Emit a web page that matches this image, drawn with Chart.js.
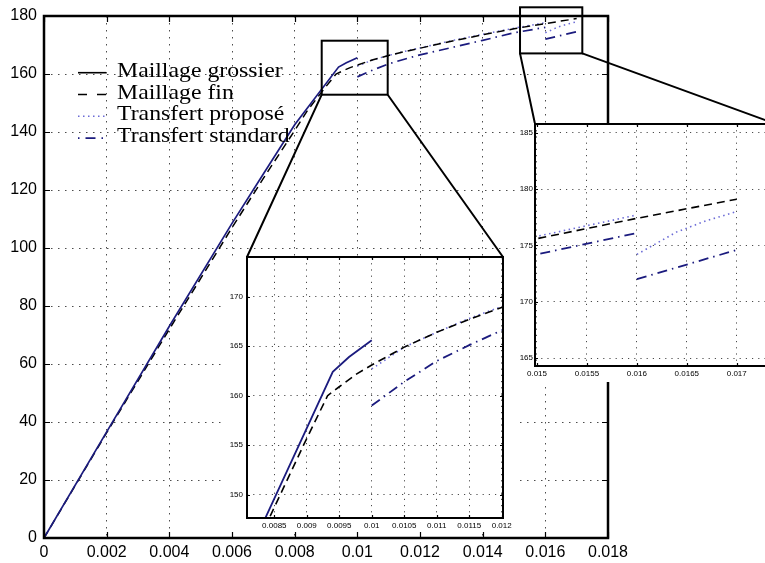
<!DOCTYPE html>
<html>
<head>
<meta charset="utf-8">
<script src="https://cdn.jsdelivr.net/npm/chart.js@4.4.1/dist/chart.umd.min.js"></script>
<style>
  body { margin: 0; background: #fff; overflow: hidden; }
  canvas { position: absolute; }
  #mainChart { left: 0; top: 0; }
  #zoomA { left: 225px; top: 256px; }
  #zoomB { left: 518px; top: 123px; }
</style>
</head>
<body>
<canvas id="mainChart" width="765" height="563"></canvas>
<canvas id="zoomA" width="293" height="275"></canvas>
<canvas id="zoomB" width="290" height="259"></canvas>
<script>
// courbes effort / deformation
const grossierX = [0, 0.002, 0.004, 0.006, 0.007, 0.008, 0.0094, 0.00965, 0.01];
const grossierY = [0, 36.6, 73, 108.5, 125.5, 142.5, 162.4, 163.9, 165.6];

const finX = [0, 0.002, 0.004, 0.006, 0.007, 0.008, 0.00842, 0.00895, 0.00932, 0.0095, 0.00977, 0.01,
    0.0105, 0.011, 0.0115, 0.012, 0.013, 0.014, 0.015, 0.016, 0.017];
const finY = [0, 36.3, 72, 107, 124, 140.5, 147.6, 155, 160, 160.9, 162.2, 163.1,
    164.9, 166.4, 167.7, 168.9, 171.3, 173.5, 175.6, 177.4, 179.1];

// null = coupure au moment du transfert
const proposeX = [0.01, 0.0105, 0.011, 0.0115, 0.012, 0.013, 0.014, 0.015, 0.016, 0.016, 0.016, 0.0162, 0.0164, 0.0167, 0.017];
const proposeY = [162.7, 164.9, 166.4, 167.8, 169.0, 171.5, 173.7, 175.8, 177.7, null, 174.2, 175.2, 176.2, 177.2, 178.0];

const standardX = [0.01, 0.0105, 0.011, 0.0115, 0.012, 0.013, 0.014, 0.015, 0.016, 0.016, 0.016, 0.017];
const standardY = [159.0, 161.4, 163.5, 165.1, 166.6, 169.1, 171.6, 174.2, 176.1, null, 172.0, 174.6];

const labels = ['Maillage grossier', 'Maillage fin', 'Transfert proposé', 'Transfert standard'];

// graduations
const mainXTicks = [0, 0.002, 0.004, 0.006, 0.008, 0.01, 0.012, 0.014, 0.016, 0.018];
const mainYTicks = [0, 20, 40, 60, 80, 100, 120, 140, 160, 180];
const zoomAXTicks = [0.0085, 0.009, 0.0095, 0.01, 0.0105, 0.011, 0.0115, 0.012];
const zoomAYTicks = [150, 155, 160, 165, 170];
const zoomBXTicks = [0.015, 0.0155, 0.016, 0.0165, 0.017];
const zoomBYTicks = [165, 170, 175, 180, 185];

// fenetres des loupes
const zoomAX = [0.00808, 0.01202], zoomAY = [147.65, 174];
const zoomBX = [0.01498, 0.017393], zoomBY = [164.3, 185.77];
const boxAX = [0.008863, 0.010969], boxAY = [152.86, 171.48];
const boxBX = [0.015192, 0.01718], boxBY = [167.1, 183.0];

const NAVY = '#1b1b7e';
const LILAC = '#6b6bd6';

Chart.defaults.font.family = '"Liberation Sans", Arial, sans-serif';
Chart.defaults.color = '#000';

function pts(xs, ys) {
    return xs.map((x, i) => ({ x: x, y: ys[i] }));
}

function buildDatasets(w) {
    return [
        { label: labels[0], data: pts(grossierX, grossierY), borderColor: NAVY, legendColor: '#000',
          borderWidth: w + 0.2, borderDash: [], legendDash: [] },
        { label: labels[1], data: pts(finX, finY), borderColor: '#000', legendColor: '#000',
          borderWidth: w, borderDash: [8, 5], legendDash: [9, 10] },
        { label: labels[2], data: pts(proposeX, proposeY), borderColor: LILAC, legendColor: LILAC,
          borderWidth: w, borderDash: [1.5, 3.5], legendDash: [1.5, 3.5] },
        { label: labels[3], data: pts(standardX, standardY), borderColor: NAVY, legendColor: NAVY,
          borderWidth: w + 0.2, borderDash: [10, 5, 1.5, 5], legendDash: [1.5, 6, 10, 6] }
    ].map(ds => Object.assign(ds, { pointRadius: 0, tension: 0, fill: false, spanGaps: false }));
}

const fmt = v => String(+(+v).toFixed(5));

function axis(range, ticks, size, fontSize, pad, dash, vertical) {
    return {
        type: 'linear',
        min: range[0],
        max: range[1],
        afterBuildTicks: s => { s.ticks = ticks.map(v => ({ value: v })); },
        // taille d'axe imposee, sans marge pour les etiquettes en bout d'axe
        afterFit: s => {
            if (vertical) { s.width = size; s.paddingTop = 0; s.paddingBottom = 0; }
            else { s.height = size; s.paddingLeft = 0; s.paddingRight = 0; }
        },
        ticks: { autoSkip: false, maxRotation: 0, padding: pad, font: { size: fontSize }, callback: fmt },
        grid: { drawTicks: false, color: 'rgba(0,0,0,0.7)', lineWidth: 1 },
        border: { display: false, dash: dash }
    };
}

// cadre noir + graduations vers l'interieur
const framePlugin = {
    id: 'frame',
    beforeDraw(chart, args, opts) {
        if (opts.fill) {
            chart.ctx.save();
            chart.ctx.fillStyle = '#fff';
            chart.ctx.fillRect(0, 0, chart.width, chart.height);
            chart.ctx.restore();
        }
    },
    afterDraw(chart, args, opts) {
        const { ctx, chartArea: a, scales } = chart;
        const t = opts.tick;
        ctx.save();
        ctx.strokeStyle = '#000';
        ctx.lineWidth = 1.2;
        ctx.beginPath();
        scales.x.ticks.forEach(tk => {
            const px = Math.round(scales.x.getPixelForValue(tk.value)) + 0.5;
            ctx.moveTo(px, a.bottom); ctx.lineTo(px, a.bottom - t);
            ctx.moveTo(px, a.top); ctx.lineTo(px, a.top + t);
        });
        scales.y.ticks.forEach(tk => {
            const py = Math.round(scales.y.getPixelForValue(tk.value)) + 0.5;
            ctx.moveTo(a.left, py); ctx.lineTo(a.left + t, py);
            ctx.moveTo(a.right, py); ctx.lineTo(a.right - t, py);
        });
        ctx.stroke();
        ctx.lineWidth = opts.width;
        ctx.strokeRect(a.left, a.top, a.right - a.left, a.bottom - a.top);
        ctx.restore();
    }
};

// legende dans le coin haut gauche
const legendPlugin = {
    id: 'cornerLegend',
    afterDatasetsDraw(chart, args, opts) {
        const ctx = chart.ctx;
        ctx.save();
        ctx.textBaseline = 'alphabetic';
        chart.data.datasets.forEach((ds, i) => {
            const y = opts.y + i * opts.step;
            ctx.strokeStyle = ds.legendColor;
            ctx.lineWidth = 1.6;
            ctx.setLineDash(ds.legendDash);
            ctx.beginPath();
            ctx.moveTo(opts.x, y);
            ctx.lineTo(opts.x + 28, y);
            ctx.stroke();
            ctx.setLineDash([]);
            ctx.save();
            ctx.translate(opts.x + 39, y + 4);
            ctx.scale(1.08, 1);
            ctx.font = '22px "Liberation Serif", "Times New Roman", serif';
            ctx.fillStyle = '#000';
            ctx.fillText(ds.label, 0, 0);
            ctx.restore();
        });
        ctx.restore();
    }
};

// rectangles de zoom et traits vers les loupes
const zoomPlugin = {
    id: 'zoomBoxes',
    afterDraw(chart, args, opts) {
        const { ctx, scales: { x, y } } = chart;
        ctx.save();
        ctx.strokeStyle = '#000';
        ctx.lineWidth = 2;
        opts.boxes.forEach(b => {
            const l = x.getPixelForValue(b.x[0]), r = x.getPixelForValue(b.x[1]);
            const t = y.getPixelForValue(b.y[1]), bt = y.getPixelForValue(b.y[0]);
            ctx.strokeRect(l, t, r - l, bt - t);
            const cv = b.inset.canvas, ia = b.inset.chartArea;
            ctx.beginPath();
            ctx.moveTo(l, bt);
            ctx.lineTo(cv.offsetLeft + ia.left, cv.offsetTop + ia.top);
            ctx.moveTo(r, bt);
            ctx.lineTo(cv.offsetLeft + ia.right, cv.offsetTop + ia.top);
            ctx.stroke();
        });
        ctx.restore();
    }
};

function insetChart(id, xr, yr, xt, yt, opt) {
    return new Chart(document.getElementById(id), {
        type: 'line',
        data: { datasets: buildDatasets(1.6) },
        options: {
            responsive: false,
            animation: false,
            events: [],
            layout: { padding: opt.padding },
            plugins: { legend: { display: false }, tooltip: { enabled: false }, frame: { fill: true, width: 2, tick: 3 } },
            scales: {
                x: axis(xr, xt, opt.xh, opt.font, opt.xpad, opt.dash, false),
                y: axis(yr, yt, opt.yw, opt.font, opt.ypad, opt.dash, true)
            }
        },
        plugins: [framePlugin]
    });
}

const zoomA = insetChart('zoomA', zoomAX, zoomAY, zoomAXTicks, zoomAYTicks,
    { padding: { left: 0, top: 1, right: 15, bottom: 0 }, xh: 13, yw: 22, font: 8, xpad: 3, ypad: 4, dash: [1.2, 5] });
const zoomB = insetChart('zoomB', zoomBX, zoomBY, zoomBXTicks, zoomBYTicks,
    { padding: { left: 0, top: 1, right: 32, bottom: 0 }, xh: 16, yw: 17, font: 8, xpad: 3, ypad: 2, dash: [1.2, 5] });

new Chart(document.getElementById('mainChart'), {
    type: 'line',
    data: { datasets: buildDatasets(1.5) },
    options: {
        responsive: false,
        animation: false,
        events: [],
        layout: { padding: { left: 0, top: 16, right: 157, bottom: 0 } },
        plugins: {
            legend: { display: false },
            tooltip: { enabled: false },
            frame: { fill: false, width: 2.5, tick: 6 },
            cornerLegend: { x: 78, y: 72.7, step: 21.8 },
            zoomBoxes: {
                boxes: [
                    { x: boxAX, y: boxAY, inset: zoomA },
                    { x: boxBX, y: boxBY, inset: zoomB }
                ]
            }
        },
        scales: {
            x: axis([0, 0.018], mainXTicks, 25, 16, 5, [1.5, 5.5], false),
            y: axis([0, 180], mainYTicks, 44, 16, 7, [1.5, 5.5], true)
        }
    },
    plugins: [framePlugin, legendPlugin, zoomPlugin]
});
</script>
</body>
</html>
